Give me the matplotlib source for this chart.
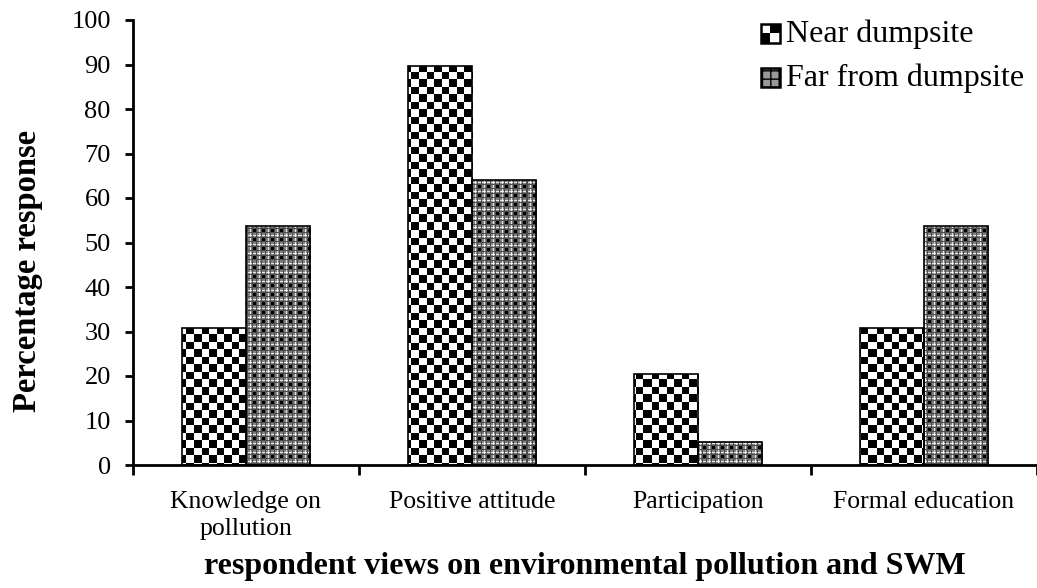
import numpy as np
import matplotlib
matplotlib.use("Agg")
import matplotlib.pyplot as plt
from matplotlib.patches import Rectangle
from matplotlib.legend_handler import HandlerBase

categories = ["Knowledge on\npollution", "Positive attitude", "Participation", "Formal education"]
near = [30.8, 89.7, 20.5, 30.8]
far = [53.8, 64.0, 5.1, 53.8]
series_names = ["Near dumpsite", "Far from dumpsite"]
yticks = list(range(0, 101, 10))

plt.rcParams['font.family'] = ['Liberation Serif', 'DejaVu Serif']

W, H = 1037, 588
fig = plt.figure(figsize=(W / 100, H / 100), dpi=100)
ax = fig.add_axes([133 / W, 123 / H, (W - 133) / W, 445 / H])

# pixel sized textures for the two fills
axw, axh = W - 133, 445
yy, xx = np.mgrid[0:axh, 0:axw]
checker = ((np.floor(xx / 7.5) + np.floor(yy / 7.5)) % 2).astype(float)

tile = np.full((9, 9), 0.5)
tile[:, 0] = 0.9
tile[0, :] = 0.9
tile[0, 0] = 1.0
tile[3:6, 3:6] = 0.0
tile[2, :] = 0.3
tile[:, 2] = 0.3
tile[6, :] = 0.3
tile[:, 6] = 0.3
plaid = np.tile(tile, (axh // 9 + 1, axw // 9 + 1))[:axh, :axw]

x = np.arange(len(categories))
bw = 0.285

def textured_bars(xs, vals, tex):
    bars = ax.bar(xs, vals, bw, facecolor='none', edgecolor='black', linewidth=1.2, zorder=3)
    for b in bars:
        im = ax.imshow(tex, cmap='gray', vmin=0, vmax=1, extent=(-0.5, 3.5, 0, 100),
                       origin='upper', aspect='auto', interpolation='nearest', zorder=2)
        im.set_clip_path(b)
    return bars

b1 = textured_bars(x - bw / 2, near, checker)
b2 = textured_bars(x + bw / 2, far, plaid)

ax.set_xlim(-0.5, 3.5)
ax.set_ylim(0, 100)
ax.set_yticks(yticks)
ax.set_xticks(np.arange(-0.5, 3.6, 1.0))
ax.set_xticklabels([])
ax.set_xticks(x, minor=True)
ax.set_xticklabels(categories, minor=True, fontsize=18.5, linespacing=1.3)
ax.tick_params(axis='x', which='minor', length=0, pad=19)
ax.tick_params(axis='x', which='major', length=7, width=2, direction='out')
ax.tick_params(axis='y', length=6, width=2, direction='out', labelsize=19, pad=10)

for s in ['top', 'right']:
    ax.spines[s].set_visible(False)
for s in ['left', 'bottom']:
    ax.spines[s].set_linewidth(2)

ax.set_ylabel("Percentage response", fontsize=23.5, fontweight='bold')
ax.set_xlabel("respondent views on environmental pollution and SWM", fontsize=23,
              fontweight='bold')
ax.yaxis.set_label_coords(-0.10, 0.436)
ax.xaxis.set_label_coords(0.5, -0.195)


class NearHandler(HandlerBase):
    def create_artists(self, legend, orig, xd, yd, width, height, fontsize, trans):
        s = min(width, height)
        x0, y0 = xd + width - s, yd
        h = s / 2
        arts = [Rectangle((x0, y0), s, s, facecolor='white', edgecolor='black', lw=1.8, transform=trans)]
        arts.append(Rectangle((x0, y0), h, h, facecolor='black', lw=0, transform=trans))
        arts.append(Rectangle((x0 + h, y0 + h), h, h, facecolor='black', lw=0, transform=trans))
        return arts


class FarHandler(HandlerBase):
    def create_artists(self, legend, orig, xd, yd, width, height, fontsize, trans):
        s = min(width, height)
        x0, y0 = xd + width - s, yd
        r = Rectangle((x0, y0), s, s, facecolor='0.6', edgecolor='black', hatch='++',
                      lw=1.8, transform=trans)
        return [r]


leg = ax.legend([b1, b2], series_names, loc='upper right', bbox_to_anchor=(1.0, 1.03),
                frameon=False, fontsize=23, handlelength=0.6, handleheight=0.6,
                handletextpad=0.2, labelspacing=0.45, borderaxespad=0.0,
                handler_map={b1: NearHandler(), b2: FarHandler()})

fig.savefig("out.png", dpi=100)
